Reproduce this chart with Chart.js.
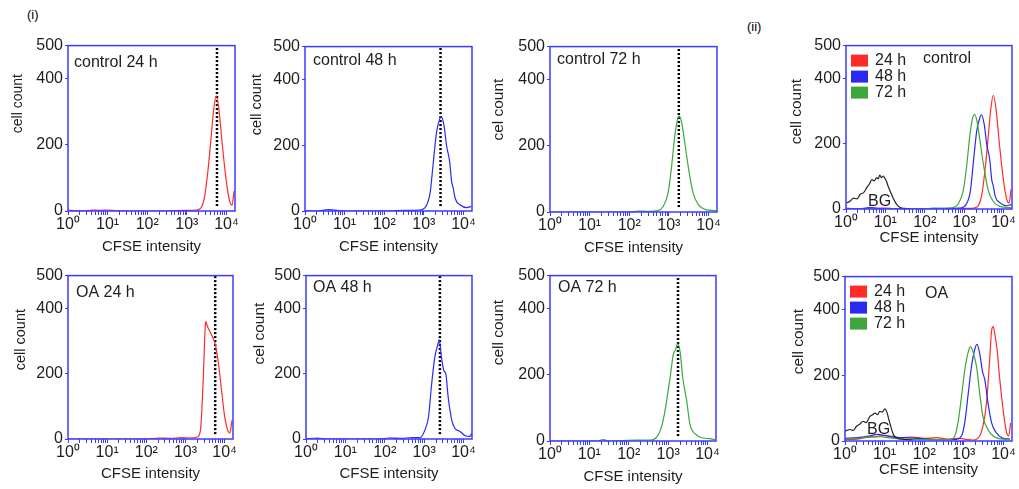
<!DOCTYPE html>
<html>
<head>
<meta charset="utf-8">
<script src="https://cdn.jsdelivr.net/npm/chart.js@4.4.0/dist/chart.umd.min.js"></script>
<style>
  body { margin: 0; background: #fff; width: 1019px; height: 489px; position: relative; overflow: hidden;
         font-family: 'Liberation Sans', Arial, sans-serif; }
  canvas { position: absolute; }
  .tag { position: absolute; font-size: 13px; color: #000; }
</style>
</head>
<body>
<div class="tag" style="left:27px;top:7px">(i)</div>
<div class="tag" style="left:747px;top:19px">(ii)</div>
<canvas id="c1"></canvas><canvas id="c2"></canvas><canvas id="c3"></canvas><canvas id="c4"></canvas>
<canvas id="c5"></canvas><canvas id="c6"></canvas><canvas id="c7"></canvas><canvas id="c8"></canvas>
<script>
// axis ticks
const xTickValues = [1, 10, 100, 1000, 10000];
const xTickLabels = ['10⁰', '10¹', '10²', '10³', '10⁴'];
const yTickValues = [0, 200, 400, 500];
const xMax = 16384;

// CFSE intensity (x) vs cell count (y)
const control24X = [1, 1.6, 2.5, 4, 6.3, 10, 16, 32, 100, 316, 1000, 1550, 2000, 2290, 2750, 3390, 4070, 4680, 5500, 6460, 7760, 9770, 12000, 13800, 15500];
const control24Y = [3, 1, 0, 3, 2, 3, 1, 0, 0, 0, 2, 2, 5, 10, 38, 120, 220, 300, 348, 305, 205, 95, 30, 18, 60];

const control48X = [1, 2, 4, 10, 30, 100, 370, 780, 1150, 1450, 1700, 2090, 2510, 2750, 3240, 3720, 4470, 5010, 5500, 6170, 8320, 12000, 15800];
const control48Y = [1, 0, 4, 0, 0, 0, 2, 3, 16, 58, 139, 240, 280, 288, 258, 200, 150, 90, 70, 38, 18, 10, 14];

const control72X = [1, 10, 100, 160, 316, 525, 710, 955, 1150, 1410, 1660, 1820, 2090, 2510, 3160, 4070, 5500, 8130, 14500, 16300];
const control72Y = [0, 0, 0, 3, 2, 4, 16, 58, 129, 230, 281, 290, 272, 210, 129, 58, 23, 8, 4, 3];

const bgControlX = [1, 1.26, 1.55, 1.9, 2.3, 2.8, 3.4, 4, 4.5, 5.2, 6, 6.6, 7.2, 7.9, 8.9, 9.8, 10.7, 11.7, 13.5, 15.8, 18.6, 21.4, 26.3, 31.6, 40];
const bgControlY = [18, 24, 33, 31, 45, 50, 66, 78, 90, 86, 96, 92, 104, 96, 101, 93, 84, 70, 52, 33, 17, 8, 3, 2, 0];

const oa24X = [1, 10, 100, 200, 400, 800, 1260, 2000, 2400, 2630, 2880, 3160, 3310, 3630, 4170, 5010, 5750, 6310, 7240, 8510, 10000, 11750, 13500, 15500];
const oa24Y = [0, 0, 0, 3, 2, 4, 3, 6, 25, 90, 200, 330, 360, 345, 330, 310, 290, 265, 215, 140, 70, 30, 18, 58];

const oa48X = [1, 2, 3.16, 10, 76, 126, 251, 525, 776, 1050, 1290, 1550, 1860, 2290, 2400, 2750, 3160, 3550, 4070, 5010, 6030, 8130, 11000, 14500, 16200];
const oa48Y = [0, 3, 0, 0, 0, 3, 2, 4, 4, 28, 68, 169, 250, 295, 304, 250, 209, 199, 128, 58, 33, 23, 10, 8, 18];

const oa72X = [1, 15.8, 22.4, 31.6, 158, 347, 513, 676, 832, 1120, 1350, 1550, 1700, 2000, 2340, 2950, 3550, 4790, 7760, 11500, 15500];
const oa72Y = [0, 0, 4, 0, 3, 3, 12, 42, 92, 192, 262, 277, 294, 272, 192, 122, 52, 22, 9, 7, 4];

// OA overlay panel (ii) curves
const oaMix24X = [1, 2, 3.16, 6.31, 10, 15.8, 25.1, 50.1, 100, 200, 398, 794, 1260, 1700, 2510, 3020, 3720, 4470, 5010, 5500, 6030, 6920, 7940, 9770, 11750, 13500, 15100];
const oaMix24Y = [5, 6, 10, 14, 16, 14, 10, 12, 8, 10, 6, 8, 4, 3, 15, 45, 115, 246, 336, 348, 326, 276, 195, 95, 30, 15, 55];

const oaMix48X = [1, 2, 3.98, 6.31, 10, 15.8, 31.6, 63.1, 126, 251, 501, 646, 871, 1050, 1290, 1550, 1860, 2140, 2510, 2950, 3390, 4070, 5010, 6610, 9770, 14500];
const oaMix48Y = [8, 10, 15, 20, 17, 12, 10, 8, 6, 4, 4, 5, 15, 55, 145, 225, 276, 294, 266, 211, 185, 115, 55, 25, 8, 6];

const oaMix72X = [1, 2, 3.98, 7.94, 12.6, 25.1, 63.1, 158, 437, 589, 708, 871, 1050, 1290, 1480, 1700, 2090, 2510, 3020, 4070, 5500, 9770, 14500];
const oaMix72Y = [6, 8, 12, 13, 10, 6, 5, 4, 4, 15, 55, 135, 215, 271, 286, 271, 226, 145, 75, 35, 15, 6, 6];

const bgOAX = [1, 1.35, 1.6, 1.95, 2.3, 2.88, 3.4, 4.27, 5, 5.75, 6.6, 7.59, 8.7, 10.2, 11.2, 13.5, 16.6, 20, 31.6, 50];
const bgOAY = [30, 35, 32, 45, 50, 60, 56, 75, 80, 85, 80, 90, 88, 98, 90, 55, 20, 10, 5, 3];

// dotted peak lines in panels 1-3 and 5-7
const markerX = [5750, 2630, 1780, 5750, 2510, 1780];
const markerY = [15, 500];

const RED = '#ff2a2a', BLUE = '#2a2af0', GREEN = '#3ea63e', BLACK = '#222222';
const FRAME = '#3b3bff', TEXT = '#1e1e1e';
const FONT = "'Liberation Sans', Arial, sans-serif";

Chart.defaults.font.family = FONT;

// minor + major tick marks for the log axis
const logTicks = [];
for (let e = 0; e < 5; e++) {
  for (let k = 1; k < 10; k++) {
    const v = k * Math.pow(10, e);
    if (v <= xMax) logTicks.push(v);
  }
}

function series(label, xs, ys, color) {
  return {
    label: label, borderColor: color, backgroundColor: color, borderWidth: 1.2,
    pointRadius: 0, cubicInterpolationMode: 'monotone',
    data: xs.map((x, i) => ({x: x, y: ys[i]}))
  };
}

function marker(x) {
  return {
    label: 'peak', borderColor: '#000', borderWidth: 2.5, borderDash: [2, 2],
    pointRadius: 0, data: markerY.map(y => ({x: x, y: y}))
  };
}

// frame, y title, in-panel text, legend squares
const panelBox = {
  id: 'panelBox',
  afterDatasetsDraw(chart, args, opts) {
    const {ctx, chartArea: a} = chart;
    ctx.save();
    ctx.strokeStyle = FRAME;
    ctx.lineWidth = 1.5;
    ctx.strokeRect(a.left, a.top, a.right - a.left, a.bottom - a.top);
    ctx.fillStyle = TEXT;
    ctx.textBaseline = 'middle';

    // y axis title, sits a bit above the axis centre as in the figure
    ctx.save();
    ctx.translate(a.left - opts.yx, a.top + opts.yy);
    ctx.rotate(-Math.PI / 2);
    ctx.textAlign = 'center';
    ctx.font = opts.ys + 'px ' + FONT;
    ctx.fillText(opts.yTitle, 0, 0);
    ctx.restore();

    ctx.textAlign = 'left';
    ctx.font = '16px ' + FONT;
    if (opts.text) ctx.fillText(opts.text, a.left + opts.tx, a.top + opts.ty);
    if (opts.bg) ctx.fillText('BG', a.left + 22, a.bottom - opts.bg);
    if (opts.legend) {
      opts.legend.forEach((item, i) => {
        const cy = a.top + 15 + i * 16;
        ctx.fillStyle = item[1];
        ctx.fillRect(a.left + 5, cy - 6, 17, 12);
        ctx.fillStyle = TEXT;
        ctx.fillText(item[0], a.left + 29, cy);
      });
    }
    ctx.restore();
  }
};

const overlayLegend = [['24 h', RED], ['48 h', BLUE], ['72 h', GREEN]];

const panels = [
  {id: 'c1', box: [68, 44, 167, 167], xPad: 1,
   sets: [series('24 h', control24X, control24Y, RED), marker(markerX[0])],
   opts: {text: 'control 24 h', tx: 6, ty: 17, yTitle: 'cell count', yx: 50, yy: 58, ys: 14}},
  {id: 'c2', box: [305, 45, 167, 166], xPad: 1,
   sets: [series('48 h', control48X, control48Y, BLUE), marker(markerX[1])],
   opts: {text: 'control 48 h', tx: 8, ty: 14, yTitle: 'cell count', yx: 48, yy: 58, ys: 14.5}},
  {id: 'c3', box: [550, 45, 167, 167], xPad: 1,
   sets: [series('72 h', control72X, control72Y, GREEN), marker(markerX[2])],
   opts: {text: 'control 72 h', tx: 7, ty: 13, yTitle: 'cel count', yx: 51, yy: 63, ys: 15.5}},
  {id: 'c4', box: [846, 44, 166, 165], xPad: 8,
   sets: [series('BG', bgControlX, bgControlY, BLACK), series('72 h', control72X, control72Y, GREEN),
          series('48 h', control48X, control48Y, BLUE), series('24 h', control24X, control24Y, RED)],
   opts: {text: 'control', tx: 77, ty: 13, bg: 7, legend: overlayLegend, yTitle: 'cell count', yx: 49, yy: 66, ys: 15.5}},
  {id: 'c5', box: [68, 274, 165, 165], xPad: 2,
   sets: [series('24 h', oa24X, oa24Y, RED), marker(markerX[3])],
   opts: {text: 'OA 24 h', tx: 8, ty: 17, yTitle: 'cell count', yx: 47, yy: 64, ys: 14.5}},
  {id: 'c6', box: [306, 274, 166, 165], xPad: 2,
   sets: [series('48 h', oa48X, oa48Y, BLUE), marker(markerX[4])],
   opts: {text: 'OA 48 h', tx: 7, ty: 12, yTitle: 'cel count', yx: 46, yy: 58, ys: 15.5}},
  {id: 'c7', box: [550, 274, 166, 167], xPad: 1,
   sets: [series('72 h', oa72X, oa72Y, GREEN), marker(markerX[5])],
   opts: {text: 'OA 72 h', tx: 8, ty: 12, yTitle: 'cell count', yx: 51, yy: 57, ys: 15.5}},
  {id: 'c8', box: [845, 275, 167, 166], xPad: 8,
   sets: [series('BG', bgOAX, bgOAY, BLACK), series('72 h', oaMix72X, oaMix72Y, GREEN),
          series('48 h', oaMix48X, oaMix48Y, BLUE), series('24 h', oaMix24X, oaMix24Y, RED)],
   opts: {text: 'OA', tx: 80, ty: 17, bg: 11, legend: overlayLegend, yTitle: 'cell count', yx: 46, yy: 65, ys: 15.5}}
];

panels.forEach(p => {
  const [L, T, W, H] = p.box;
  const canvas = document.getElementById(p.id);
  canvas.width = 62 + W + 6;
  canvas.height = 10 + H + 46;
  canvas.style.left = (L - 62) + 'px';
  canvas.style.top = (T - 10) + 'px';

  new Chart(canvas, {
    type: 'line',
    data: {datasets: p.sets},
    options: {
      responsive: false,
      animation: false,
      layout: {padding: {top: 10, right: 6, left: 0, bottom: 0}},
      plugins: {legend: {display: false}, tooltip: {enabled: false}, panelBox: p.opts},
      scales: {
        x: {
          type: 'logarithmic', min: 1, max: xMax,
          afterBuildTicks: s => { s.ticks = logTicks.map(v => ({value: v})); },
          afterFit: s => { s.height = 46; },
          grid: {drawOnChartArea: false, tickLength: 4, color: FRAME, tickColor: FRAME},
          border: {display: false},
          ticks: {
            autoSkip: false, maxRotation: 0, minRotation: 0, padding: 0, color: TEXT, font: {size: 16},
            callback: v => { const i = xTickValues.indexOf(v); return i >= 0 ? xTickLabels[i] : ''; }
          },
          title: {display: true, text: 'CFSE intensity', color: TEXT, font: {size: 15}, padding: {top: 0, bottom: p.xPad}}
        },
        y: {
          min: 0, max: 500,
          afterBuildTicks: s => { s.ticks = yTickValues.map(v => ({value: v})); },
          afterFit: s => { s.width = 62; },
          grid: {drawOnChartArea: false, tickLength: 3, color: FRAME, tickColor: FRAME},
          border: {display: false},
          ticks: {padding: 2, color: TEXT, font: {size: 16}},
          title: {display: false}
        }
      }
    },
    plugins: [panelBox]
  });
});
</script>
</body>
</html>
